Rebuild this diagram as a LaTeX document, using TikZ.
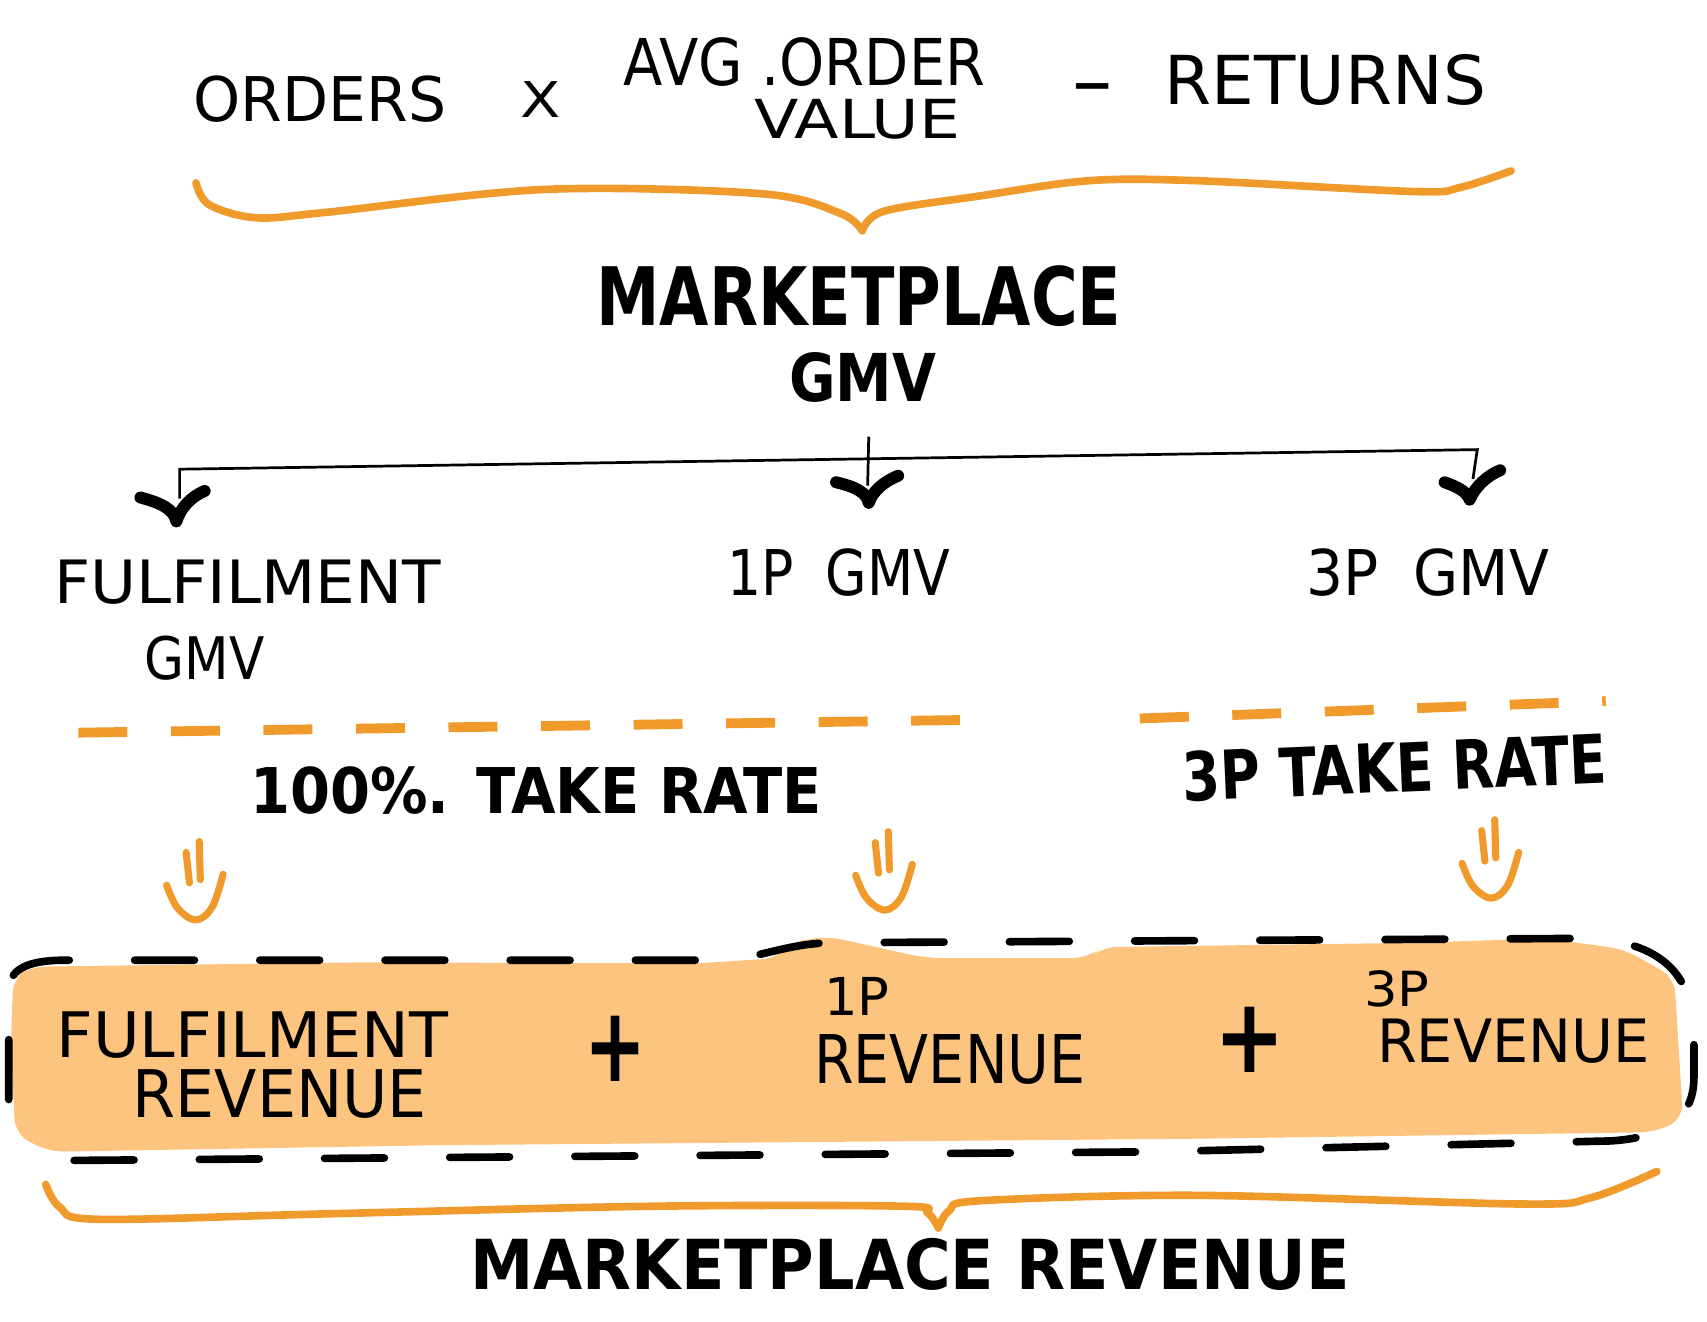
\documentclass[tikz,border=0pt]{standalone}
\usepackage{fontspec}
\setmainfont{DejaVu Sans}
\usepackage{graphicx}
\newlength\uu \setlength\uu{0.010887cm}
\definecolor{ostroke}{HTML}{F09A2C}
\definecolor{ofill}{HTML}{FCC47F}
\tikzset{
  txt/.style={inner sep=0pt, outer sep=0pt, anchor=south west},
  brace/.style={draw=ostroke, line width=7\uu, line cap=round, line join=round},
  odash/.style={draw=ostroke, line width=9\uu, dash pattern=on 45\uu off 40\uu},
  treeline/.style={draw=black, line width=2.5\uu},
  tick/.style={draw=black, line width=11\uu, line cap=round, line join=round},
  hand/.style={draw=ostroke, line width=6.5\uu, line cap=round, line join=round},
  outline/.style={draw=black, line width=7\uu, dash pattern=on 55\uu off 60\uu, line cap=round},
  blob/.style={fill=ofill, rounded corners=14\uu}
}
\begin{document}
\begin{tikzpicture}[x=0.010887cm, y=-0.010887cm]
\useasboundingbox (0,0) rectangle (1568,1214.3);

% ---------- top formula ----------
\node[txt] (orders) at (178,112) {\resizebox{232\uu}{42\uu}{ORDERS}};
\node[txt] (times) at (478,108) {\resizebox{37\uu}{33\uu}{X}};
\node[txt] (aov) at (573,79) {\resizebox{332\uu}{44\uu}{AVG .ORDER}};
\node[txt] (value) at (693,128) {\resizebox{189\uu}{36\uu}{VALUE}};
\node[txt] (minus) at (985,100) {\resizebox{37\uu}{!}{–}};
\node[txt] (returns) at (1070,97) {\resizebox{295\uu}{46\uu}{RETURNS}};

% top brace
\draw[brace] plot[smooth, tension=0.55] coordinates {(180,168) (192,188) (235,200) (300,195) (500,174) (700,178) (772,196) (792,212)};
\draw[brace] plot[smooth, tension=0.55] coordinates {(792,212) (812,194) (900,180) (1000,166) (1100,166) (1300,176) (1342,172) (1388,157)};

% ---------- marketplace GMV ----------
\node[txt] (mgmv1) at (548,300) {\resizebox{482\uu}{55\uu}{\bfseries MARKETPLACE}};
\node[txt] (mgmv2) at (725,370) {\resizebox{135\uu}{45\uu}{\bfseries GMV}};

% tree connector
\coordinate (ctop) at (798,401);
\coordinate (cmid) at (797,446);
\coordinate (lcorner) at (165,431);
\coordinate (rcorner) at (1357,413);
\coordinate (lend) at (165,458);
\coordinate (rend) at (1353,440);
\draw[treeline] (ctop) -- (cmid);
\draw[treeline] (lend) -- (lcorner) -- (rcorner) -- (rend);

% arrowheads (check shapes)
\draw[tick] (129,457) .. controls (148,462) and (160,468) .. (162,479) .. controls (166,466) and (176,456) .. (188,451);
\draw[tick] (768,443) .. controls (785,447) and (796,452) .. (798,462) .. controls (802,450) and (813,442) .. (825,437);
\draw[tick] (1327,443) .. controls (1338,447) and (1347,451) .. (1350,459) .. controls (1355,447) and (1366,437) .. (1378,432);

% branch labels
\node[txt] (fulgmv1) at (50,555) {\resizebox{355\uu}{40\uu}{FULFILMENT}};
\node[txt] (fulgmv2) at (133,625) {\resizebox{110\uu}{40\uu}{GMV}};
\node[txt] (onepgmv) at (668,548) {\resizebox{205\uu}{43\uu}{1P\hspace{0.6em}GMV}};
\node[txt] (threepgmv) at (1200,548) {\resizebox{223\uu}{43\uu}{3P\hspace{0.6em}GMV}};

% orange dashed separators
\coordinate (dl1) at (72,673);
\coordinate (dl2) at (910,661);
\coordinate (dr1) at (1047,660);
\coordinate (dr2) at (1475,644);
\draw[odash] (dl1) -- (dl2);
\draw[odash] (dr1) -- (dr2);

% take rates
\node[txt] (take100) at (230,748) {\resizebox{525\uu}{43\uu}{\bfseries 100\%. TAKE RATE}};
\node[txt, rotate=2.5] (take3p) at (1087,737) {\resizebox{390\uu}{46\uu}{\bfseries 3P TAKE RATE}};

% hand-drawn down arrows
\foreach \cx/\by in {180/845, 813/836, 1370/825}{
  \begin{scope}[shift={(\cx,\by)}]
    \draw[hand] plot[smooth, tension=0.6] coordinates {(-27,-32) (-17,-11) (0,0) (15,-12) (25,-42)};
    \draw[hand] (-9,-62) -- (-6,-34);
    \draw[hand] (3,-72) -- (4,-37);
  \end{scope}
}

% ---------- revenue band ----------
\fill[blob] (10,960) -- (12,898) -- (28,888) -- (330,884) -- (640,885) -- (716,880) -- (724,866) -- (760,860)
  -- (850,880) -- (1000,880) -- (1012,870) -- (1300,866) -- (1420,862) -- (1492,872) -- (1538,898)
  -- (1546,1028) -- (1520,1040) -- (1100,1046) -- (400,1052) -- (45,1058) -- (14,1042) -- cycle;

\draw[outline] (8,1010) -- (8,910) .. controls (8,888) and (30,882) .. (60,882) -- (660,882)
  .. controls (700,880) and (718,868) .. (760,866) -- (1450,862)
  .. controls (1530,862) and (1556,900) .. (1556,950) -- (1556,990)
  .. controls (1556,1030) and (1525,1045) .. (1480,1048) -- (1060,1058) -- (60,1066);

\node[txt] (fulrev1) at (52,972) {\resizebox{360\uu}{42\uu}{FULFILMENT}};
\node[txt] (fulrev2) at (122,1027) {\resizebox{270\uu}{44\uu}{REVENUE}};
\node[txt] (plus1) at (537,993) {\resizebox{57\uu}{60\uu}{\bfseries +}};
\node[txt] (onep) at (757,933) {\resizebox{60\uu}{35\uu}{1P}};
\node[txt] (oneprev) at (748,996) {\resizebox{249\uu}{45\uu}{REVENUE}};
\node[txt] (plus2) at (1116,985) {\resizebox{65\uu}{60\uu}{\bfseries +}};
\node[txt] (threep) at (1253,925) {\resizebox{60\uu}{33\uu}{3P}};
\node[txt] (threeprev) at (1265,977) {\resizebox{250\uu}{40\uu}{REVENUE}};

% bottom brace
\draw[brace] plot[smooth, tension=0.55] coordinates {(42,1088) (55,1109) (90,1120) (300,1115) (600,1108) (830,1108) (852,1114) (862,1128)};
\draw[brace] plot[smooth, tension=0.55] coordinates {(862,1128) (872,1112) (900,1103) (1100,1098) (1400,1106) (1462,1100) (1522,1076)};

\node[txt] (mrev) at (432,1185) {\resizebox{808\uu}{47\uu}{\bfseries MARKETPLACE REVENUE}};
\end{tikzpicture}
\end{document}
